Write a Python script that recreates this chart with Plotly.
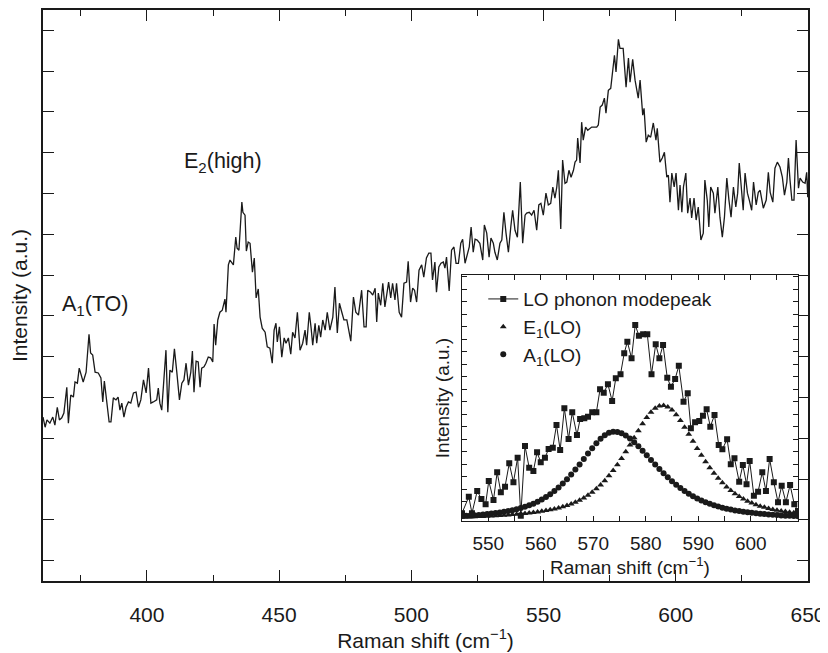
import plotly.graph_objects as go

# ---------------- main spectrum ----------------
main_x = [360.7, 361.5, 362.2, 363.3, 364.4, 365.2, 366.1, 366.9, 367.8, 368.6,
          369.7, 370.3, 371.2, 372.2, 372.8, 373.7, 374.4, 375.3, 375.9, 377.0,
          378.1, 378.7, 379.5, 380.4, 381.6, 382.6, 383.3, 383.9, 384.8, 385.7,
          386.4, 387.3, 388.3, 389.1, 389.8, 390.5, 391.3, 392.1, 393.0, 393.9,
          394.9, 395.9, 396.8, 397.7, 398.7, 399.7, 400.6, 401.5, 402.4, 403.7,
          404.3, 404.9, 405.6, 407.2, 407.9, 408.7, 409.6, 410.4, 411.3, 412.3,
          413.2, 414.0, 414.8, 415.7, 416.6, 417.2, 417.8, 418.6, 419.4, 420.1,
          420.7, 421.6, 422.3, 423.2, 424.1, 424.9, 425.4, 426.0, 426.8, 427.6,
          428.5, 429.5, 429.9, 430.8, 431.4, 432.7, 433.6, 434.1, 434.8, 435.9,
          436.3, 437.1, 437.6, 438.3, 439.0, 439.9, 440.6, 441.3, 442.1, 442.8,
          443.6, 444.7, 445.5, 446.5, 447.4, 448.1, 448.8, 449.3, 450.1, 451.0,
          451.9, 452.6, 453.5, 454.4, 455.1, 456.0, 456.9, 457.9, 458.9, 459.8,
          460.4, 461.4, 462.1, 462.7, 463.6, 464.2, 465.0, 465.7, 466.5, 467.4,
          468.2, 469.2, 470.3, 471.1, 472.0, 472.8, 473.7, 474.5, 475.6, 476.2,
          477.1, 478.1, 479.0, 480.0, 480.6, 481.2, 482.1, 482.9, 483.5, 484.6,
          485.4, 486.3, 486.9, 487.5, 488.4, 489.2, 490.0, 490.7, 491.4, 492.2,
          492.9, 493.8, 494.4, 495.4, 496.3, 497.2, 498.2, 498.8, 499.7, 500.5,
          501.2, 502.0, 502.9, 503.9, 504.7, 505.7, 506.6, 507.4, 508.0, 508.9,
          509.5, 510.4, 511.2, 512.1, 512.7, 513.3, 514.3, 515.2, 516.1, 516.9,
          517.8, 518.7, 519.4, 520.3, 520.9, 521.9, 522.6, 523.4, 524.1, 524.9,
          525.9, 527.0, 527.6, 528.5, 529.4, 530.1, 531.0, 531.6, 532.5, 533.5,
          534.2, 535.0, 535.8, 536.7, 537.6, 538.3, 539.2, 540.1, 541.2, 542.1,
          543.0, 543.6, 544.6, 545.5, 546.4, 547.4, 548.2, 549.0, 549.9, 550.9,
          551.8, 552.7, 553.5, 554.3, 555.0, 555.6, 556.5, 557.2, 558.1, 558.8,
          559.6, 560.4, 561.3, 561.9, 562.5, 562.9, 563.8, 564.4, 565.0, 565.9,
          566.7, 567.5, 568.2, 569.1, 570.1, 570.7, 571.4, 572.2, 573.0, 573.6,
          574.5, 575.4, 576.2, 576.8, 577.4, 578.3, 578.9, 580.1, 581.2, 582.1,
          582.7, 583.7, 584.6, 585.8, 586.5, 587.5, 588.0, 588.8, 589.6, 590.5,
          591.5, 592.5, 593.0, 594.0, 594.9, 595.7, 596.6, 597.2, 597.8, 598.5,
          599.4, 600.1, 601.0, 601.6, 602.3, 602.9, 603.8, 604.5, 605.4, 606.0,
          606.9, 607.7, 608.5, 609.5, 610.4, 611.0, 611.9, 612.5, 613.2, 614.2,
          614.8, 615.9, 616.7, 617.6, 618.4, 619.3, 620.1, 620.9, 621.8, 622.7,
          623.4, 624.0, 624.7, 625.5, 626.2, 627.1, 627.8, 628.7, 629.4, 630.4,
          631.2, 631.9, 633.1, 634.2, 635.0, 635.7, 636.7, 637.5, 638.4, 639.4,
          640.3, 641.1, 642.0, 642.6, 643.2, 643.9, 644.7, 645.5, 646.4, 647.0,
          648.0, 648.9, 649.5, 649.9, 650.4]
main_y = [4.02, 3.77, 3.95, 3.87, 4.02, 3.82, 4.26, 3.95, 4.00, 4.12,
          4.75, 3.87, 4.56, 4.51, 4.88, 4.85, 5.22, 5.00, 4.88, 5.12,
          6.05, 5.59, 5.54, 5.12, 5.10, 4.98, 4.39, 4.90, 4.36, 3.90,
          3.90, 4.49, 4.44, 4.51, 4.19, 4.36, 4.02, 4.26, 4.39, 4.36,
          4.61, 4.63, 4.26, 4.44, 4.93, 4.61, 5.22, 4.36, 4.39, 4.44,
          4.73, 4.36, 4.19, 5.66, 4.14, 5.17, 5.12, 5.69, 5.12, 4.44,
          4.85, 4.93, 5.34, 4.80, 5.12, 5.64, 4.63, 5.39, 5.37, 4.75,
          5.22, 5.25, 5.34, 5.49, 5.47, 5.37, 6.30, 5.78, 6.40, 6.59,
          6.64, 6.91, 6.59, 7.75, 7.87, 7.75, 8.43, 8.16, 8.11, 9.29,
          9.04, 8.97, 8.09, 8.31, 8.28, 7.57, 7.92, 6.94, 7.16, 6.47,
          6.20, 6.10, 5.74, 5.71, 5.34, 6.15, 6.32, 5.86, 6.23, 5.49,
          5.96, 5.83, 5.96, 5.56, 6.10, 5.96, 6.59, 5.66, 5.83, 6.15,
          5.78, 6.59, 6.20, 5.78, 6.32, 5.83, 6.27, 5.98, 6.40, 6.15,
          6.59, 6.15, 6.47, 7.21, 6.08, 6.81, 6.59, 6.40, 6.40, 6.20,
          5.88, 6.96, 6.59, 6.52, 6.84, 7.13, 6.23, 6.23, 7.13, 7.08,
          7.01, 7.18, 6.35, 7.06, 6.76, 7.30, 6.72, 7.06, 7.33, 6.94,
          7.30, 6.89, 7.30, 6.59, 6.47, 7.30, 7.33, 7.84, 6.84, 7.18,
          7.13, 6.84, 7.62, 7.75, 7.45, 7.92, 8.04, 8.04, 7.38, 7.82,
          7.08, 7.70, 7.79, 7.82, 7.67, 7.94, 7.11, 8.11, 8.19, 7.79,
          7.79, 8.28, 8.38, 7.79, 7.92, 8.19, 8.68, 8.06, 8.38, 8.36,
          8.28, 7.87, 8.73, 8.53, 7.94, 8.41, 8.28, 8.06, 7.87, 8.28,
          8.36, 9.04, 8.53, 8.06, 8.68, 9.09, 8.60, 8.43, 9.78, 8.28,
          8.97, 9.02, 9.04, 8.97, 9.09, 8.60, 9.22, 9.26, 8.97, 9.51,
          9.22, 9.26, 9.66, 9.39, 9.66, 10.07, 8.63, 10.32, 9.75, 9.78,
          10.07, 9.90, 10.07, 10.27, 10.32, 10.86, 10.25, 11.25, 10.81, 11.13,
          11.05, 11.10, 11.13, 11.13, 11.13, 11.18, 11.62, 11.67, 11.84, 11.47,
          12.03, 12.08, 12.60, 12.89, 12.48, 13.28, 13.06, 13.06, 12.11, 12.82,
          12.23, 12.79, 12.28, 11.84, 12.28, 11.42, 11.59, 10.76, 10.93, 10.88,
          11.23, 10.81, 11.10, 10.27, 10.37, 10.51, 9.90, 9.95, 9.29, 10.00,
          9.66, 10.00, 9.09, 9.71, 9.04, 9.66, 10.00, 9.02, 9.39, 8.90,
          9.39, 8.85, 9.17, 8.36, 8.53, 9.83, 9.34, 8.68, 9.66, 9.51,
          9.02, 9.66, 8.92, 8.43, 8.92, 9.88, 9.34, 8.92, 9.66, 9.17,
          9.51, 10.25, 9.71, 9.09, 10.00, 9.51, 9.34, 9.09, 9.78, 9.22,
          9.53, 9.58, 9.14, 9.34, 10.02, 9.53, 9.29, 10.12, 10.27, 10.15,
          9.90, 9.46, 9.78, 10.37, 9.83, 9.34, 9.34, 10.81, 9.63, 9.88,
          9.78, 9.75, 10.02, 9.41, 10.15]

main_ticks_x = [400, 450, 500, 550, 600, 650]
peak_labels = ["A<sub>1</sub>(TO)", "E<sub>2</sub>(high)"]
peak_label_x = [380.4, 428.8]
peak_label_y = [6.76, 10.25]

# ---------------- inset data ----------------
lo_x = [545.0, 546.3, 546.9, 547.9, 548.7, 549.5, 550.1, 551.0, 551.7, 552.4,
        553.2, 554.0, 554.8, 555.6, 556.2, 557.0, 557.8, 558.6, 559.3, 560.0,
        560.8, 561.5, 562.3, 563.0, 563.7, 564.5, 565.3, 566.0, 566.9, 567.5,
        568.3, 569.0, 569.8, 570.6, 571.3, 572.0, 572.8, 573.6, 574.3, 575.2,
        575.9, 576.5, 577.3, 578.0, 578.7, 579.5, 580.3, 581.1, 581.9, 582.6,
        583.3, 584.1, 584.8, 585.6, 586.3, 587.2, 588.0, 588.6, 589.4, 590.2,
        590.9, 591.6, 592.3, 593.1, 593.9, 594.6, 595.5, 596.2, 596.9, 597.8,
        598.5, 599.2, 599.8, 600.6, 601.4, 602.2, 602.9, 603.6, 604.4, 605.2,
        605.9, 606.7, 607.5, 608.3, 609.0]
lo_y = [0.31, 0.97, 0.31, 1.20, 0.88, 0.67, 1.60, 0.84, 1.95, 1.15,
        1.37, 2.31, 1.55, 2.53, 0.21, 3.00, 2.13, 2.00, 2.75, 2.35,
        2.53, 2.88, 2.93, 3.84, 2.84, 4.51, 3.28, 4.35, 3.44, 4.08,
        4.11, 4.17, 4.35, 4.35, 5.27, 5.13, 5.47, 4.80, 5.71, 5.87,
        6.71, 7.17, 6.51, 7.84, 7.41, 7.47, 7.47, 5.87, 7.07, 6.51,
        7.04, 5.73, 5.37, 5.68, 6.21, 4.77, 5.11, 3.71, 3.95, 4.00,
        4.21, 4.47, 3.77, 4.24, 3.04, 2.87, 3.27, 2.27, 2.51, 1.57,
        2.24, 1.47, 2.40, 1.01, 1.17, 1.95, 1.20, 2.48, 1.55, 0.75,
        1.41, 0.75, 1.44, 0.67, 0.40]

fit_x = [545.0, 545.8, 546.6, 547.4, 548.2, 549.0, 549.8, 550.6, 551.4, 552.2,
         553.0, 553.8, 554.6, 555.4, 556.2, 557.0, 557.8, 558.6, 559.4, 560.2,
         561.0, 561.8, 562.6, 563.4, 564.2, 565.0, 565.8, 566.6, 567.4, 568.2,
         569.0, 569.8, 570.6, 571.4, 572.2, 573.0, 573.8, 574.6, 575.4, 576.2,
         577.0, 577.8, 578.6, 579.4, 580.2, 581.0, 581.8, 582.6, 583.4, 584.2,
         585.0, 585.8, 586.6, 587.4, 588.2, 589.0, 589.8, 590.6, 591.4, 592.2,
         593.0, 593.8, 594.6, 595.4, 596.2, 597.0, 597.8, 598.6, 599.4, 600.2,
         601.0, 601.8, 602.6, 603.4, 604.2, 605.0, 605.8, 606.6, 607.4, 608.2,
         609.0]
e1_y = [0.15, 0.16, 0.16, 0.17, 0.18, 0.18, 0.19, 0.20, 0.21, 0.22,
        0.23, 0.24, 0.26, 0.27, 0.29, 0.30, 0.32, 0.34, 0.36, 0.39,
        0.42, 0.45, 0.48, 0.52, 0.57, 0.62, 0.68, 0.75, 0.83, 0.92,
        1.03, 1.15, 1.29, 1.44, 1.61, 1.81, 2.02, 2.25, 2.50, 2.77,
        3.04, 3.33, 3.61, 3.89, 4.14, 4.35, 4.51, 4.60, 4.62, 4.56,
        4.44, 4.25, 4.02, 3.75, 3.47, 3.19, 2.90, 2.63, 2.37, 2.13,
        1.91, 1.71, 1.53, 1.36, 1.22, 1.09, 0.98, 0.88, 0.79, 0.72,
        0.65, 0.59, 0.55, 0.50, 0.46, 0.43, 0.40, 0.38, 0.35, 0.33,
        0.31]
a1_y = [0.20, 0.21, 0.22, 0.23, 0.24, 0.26, 0.28, 0.30, 0.32, 0.34,
        0.37, 0.40, 0.43, 0.47, 0.52, 0.57, 0.63, 0.69, 0.77, 0.86,
        0.96, 1.07, 1.20, 1.34, 1.50, 1.67, 1.86, 2.06, 2.26, 2.48,
        2.70, 2.91, 3.11, 3.29, 3.43, 3.53, 3.57, 3.56, 3.51, 3.42,
        3.30, 3.15, 2.99, 2.81, 2.63, 2.44, 2.26, 2.08, 1.91, 1.75,
        1.59, 1.45, 1.32, 1.20, 1.09, 0.99, 0.90, 0.82, 0.75, 0.69,
        0.63, 0.58, 0.53, 0.49, 0.46, 0.42, 0.40, 0.37, 0.35, 0.33,
        0.31, 0.29, 0.28, 0.26, 0.25, 0.24, 0.22, 0.21, 0.21, 0.20,
        0.19]
series_names = ["LO phonon modepeak", "E<sub>1</sub>(LO)", "A<sub>1</sub>(LO)"]

assert len(main_x) == len(main_y)
assert len(lo_x) == len(lo_y)
assert len(fit_x) == len(e1_y) == len(a1_y)

INK = "#1a1a1a"
FONT = "Liberation Sans, Arial, Helvetica, sans-serif"

fig = go.Figure()
fig.add_trace(go.Scatter(x=main_x, y=main_y, mode="lines",
                         line=dict(color=INK, width=1.3),
                         showlegend=False, xaxis="x", yaxis="y", hoverinfo="skip"))
fig.add_trace(go.Scatter(x=fit_x, y=e1_y, mode="markers", name=series_names[1],
                         marker=dict(symbol="triangle-up", size=6, color=INK),
                         xaxis="x2", yaxis="y2", legendrank=2))
fig.add_trace(go.Scatter(x=fit_x, y=a1_y, mode="markers", name=series_names[2],
                         marker=dict(symbol="circle", size=6, color=INK),
                         xaxis="x2", yaxis="y2", legendrank=3))
fig.add_trace(go.Scatter(x=lo_x, y=lo_y, mode="lines+markers", name=series_names[0],
                         marker=dict(symbol="square", size=6, color=INK),
                         line=dict(color=INK, width=1),
                         xaxis="x2", yaxis="y2", legendrank=1))

for txt, lx, ly in zip(peak_labels, peak_label_x, peak_label_y):
    fig.add_annotation(x=lx, y=ly, xref="x", yref="y", text=txt, showarrow=False,
                       font=dict(size=21.5, color=INK, family=FONT),
                       xanchor="center", yanchor="middle")

axis_common = dict(showline=True, linecolor=INK, mirror="allticks", ticks="inside",
                   tickcolor=INK, showgrid=False, zeroline=False, automargin=False)

# the page body adds an 8 px offset; the figure is sized so the plot lands in place
fig.update_layout(
    width=820, height=645,
    margin=dict(l=35, r=20, t=2, b=72),
    paper_bgcolor="white", plot_bgcolor="white",
    font=dict(family=FONT, color=INK, size=21),
    xaxis=dict(range=[360.7, 650], tickvals=main_ticks_x, ticklen=11, tickwidth=1.2,
               linewidth=1.5, tickfont=dict(size=21), ticklabelstandoff=14,
               minor=dict(ticks="inside", dtick=25, tick0=375, ticklen=6,
                          tickcolor=INK, tickwidth=1.2),
               title=dict(text="Raman shift (cm<sup>\u22121</sup>)", font=dict(size=21),
                          standoff=7),
               **axis_common),
    yaxis=dict(range=[0, 14], tick0=0.5, dtick=1, ticklen=11, tickwidth=1.2,
               linewidth=1.5, showticklabels=False,
               title=dict(text="Intensity (a.u.)", font=dict(size=21), standoff=10),
               **axis_common),
    xaxis2=dict(domain=[0.5477, 0.9869], anchor="y2", range=[545, 609],
                tick0=550, dtick=10, ticklen=5, tickwidth=1, linewidth=1.2,
                tickfont=dict(size=19), ticklabelstandoff=5,
                minor=dict(ticks="inside", dtick=5, ticklen=5, tickcolor=INK, tickwidth=1),
                title=dict(text="Raman shift (cm<sup>\u22121</sup>)", font=dict(size=19),
                           standoff=0),
                **axis_common),
    yaxis2=dict(domain=[0.1051, 0.5359], anchor="x2", range=[0, 9.84],
                tick0=0.77, dtick=0.5, ticklen=5, tickwidth=1, linewidth=1.2,
                showticklabels=False,
                title=dict(text="Intensity (a.u.)", font=dict(size=19), standoff=6),
                **axis_common),
    legend=dict(x=0.5755, y=0.527, xanchor="left", yanchor="top",
                bgcolor="rgba(0,0,0,0)", font=dict(size=19, family=FONT, color=INK),
                tracegroupgap=0),
)

fig.write_html("out.html")
